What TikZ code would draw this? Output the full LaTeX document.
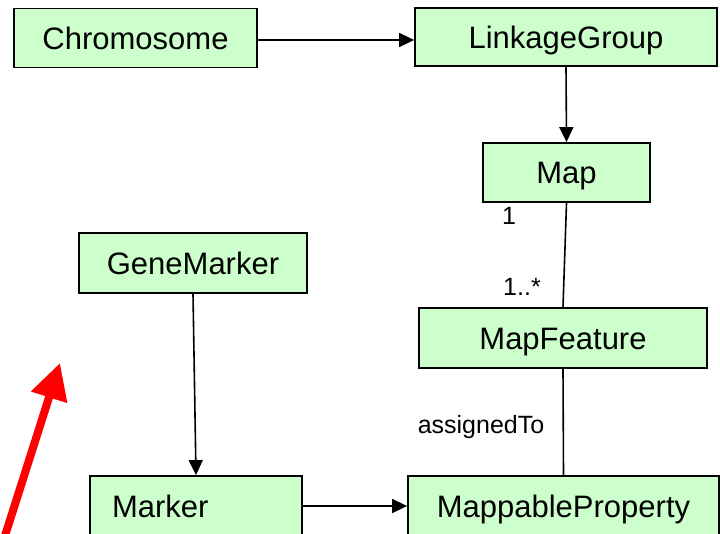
\documentclass[tikz,border=0pt]{standalone}
\usepackage{fontspec}
\setmainfont{Liberation Sans}
\usetikzlibrary{arrows.meta}
\definecolor{boxgreen}{HTML}{CCFFCC}

\begin{document}
\begin{tikzpicture}[x=1pt,y=-1pt,
  cls/.style={rectangle,draw,line width=1.8pt,fill=boxgreen,inner sep=0pt,
    text height=23pt,text depth=0pt,font=\fontsize{31}{36}\selectfont},
  lbl/.style={inner sep=0pt,font=\fontsize{25}{30}\selectfont},
  link/.style={line width=1.6pt},
  arr/.style={line width=1.6pt,-{Triangle[length=15pt,width=14pt]}}]
\useasboundingbox (0,0) rectangle (720,534);
\node [cls,minimum width=243pt,minimum height=59pt] (c) at (135.5,38) {Chromosome};
\node [cls,minimum width=302pt,minimum height=58pt] (l) at (566,37) {LinkageGroup};
\node [cls,minimum width=167pt,minimum height=59pt] (m) at (566.5,172.5) {Map};
\node [cls,minimum width=228pt,minimum height=60pt] (g) at (193,263) {GeneMarker};
\node [cls,minimum width=288pt,minimum height=60pt] (f) at (563,338) {MapFeature};
\node [cls,minimum width=212pt,minimum height=60pt,text width=168pt,inner xsep=22pt,align=left] (k) at (196,506) {Marker};
\node [cls,minimum width=311pt,minimum height=60pt] (p) at (563.5,506) {MappableProperty};
% connectors
\draw [arr] (c.east |- 0,40) -- (l.west |- 0,40);
\draw [arr] (l.south) -- (m.north);
\draw [link] (m.south) -- (f.north);
\draw [link] (f.south) -- (p.north);
\draw [arr] (g.south) -- (k.north);
\draw [arr] (k.east) -- (p.west);
% labels
\node [lbl] (one) at (509,216) {1};
\node [lbl] (many) at (522,287) {1..*};
\node [lbl] (as) at (481,427) {assignedTo};
% red pointer
\coordinate (t) at (3,542);
\coordinate (h) at (60,363);
\draw [red,line width=8pt,-{Triangle[length=36pt,width=36pt]}] (t) -- (h);
\end{tikzpicture}
\end{document}
